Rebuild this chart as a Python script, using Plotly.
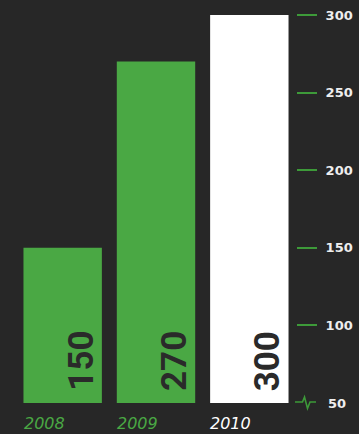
import plotly.graph_objects as go

years = ["2008", "2009", "2010"]
values = [150, 270, 300]
bar_colors = ["#4aa844", "#4aa844", "#ffffff"]
year_colors = ["#4aa844", "#4aa844", "#ffffff"]
y_ticks = [100, 150, 200, 250, 300]
y_floor = 50

BG = "#272727"
TICK_GREEN = "#3d9a39"

fig = go.Figure(
    go.Bar(
        x=years,
        y=values,
        marker=dict(color=bar_colors, line=dict(width=0)),
        hoverinfo="skip",
    )
)

# value labels, rotated and sitting at the foot of each bar
# (category positions given by index so numeric-looking names are not misread)
for i, v in enumerate(values):
    fig.add_annotation(
        x=i, y=y_floor, xref="x", yref="y",
        text=f"<b>{v}</b>", showarrow=False, textangle=-90,
        xanchor="center", yanchor="bottom", xshift=18, yshift=10,
        font=dict(family="Roboto", size=35, color="#2a2a2a"),
    )

# year labels under the bars, aligned to the bar's left edge
for i, (yr, c) in enumerate(zip(years, year_colors)):
    fig.add_annotation(
        x=i, y=0, xref="x", yref="paper",
        text=f"<i>{yr}</i>", showarrow=False,
        xanchor="left", yanchor="top", xshift=-41, yshift=-9,
        font=dict(family="DejaVu Sans", size=16, color=c),
    )

# bottom label with a pulse mark instead of a plain tick;
# the y range starts at y_floor, so the plot's bottom edge (paper 0) is that value
fig.add_annotation(
    x=1, y=y_floor, xref="paper", yref="y",
    text="<b>50</b>", showarrow=False, xanchor="left", yanchor="middle",
    xshift=30, font=dict(family="DejaVu Sans", size=13, color="#eeeeee"),
)
fig.add_shape(
    type="path", xref="paper", yref="paper", xsizemode="pixel", ysizemode="pixel",
    xanchor=1, yanchor=0,
    path="M -1 1 L 6.5 1 L 8.5 6 L 11.5 -5.5 L 14 1 L 20 1",
    line=dict(color=TICK_GREEN, width=1.6),
)

fig.update_layout(
    width=359, height=434,
    margin=dict(l=16, r=63, t=15, b=31, autoexpand=False),
    paper_bgcolor=BG, plot_bgcolor=BG,
    bargap=0.16,
    showlegend=False,
    xaxis=dict(type="category", categoryorder="array", categoryarray=years,
               range=[-0.5, len(years) - 0.5], showticklabels=False, showgrid=False,
               zeroline=False, showline=False, ticks="", automargin=False),
    yaxis=dict(
        range=[y_floor, 300], side="right", automargin=False,
        tickvals=y_ticks, ticks="outside", ticklen=20, tickwidth=1.6, tickcolor=TICK_GREEN,
        ticklabelstandoff=6,
        showgrid=False, zeroline=False, showline=False,
        tickfont=dict(family="DejaVu Sans", size=13, color="#eeeeee", weight="bold"),
    ),
)

fig.write_html("out.html")
